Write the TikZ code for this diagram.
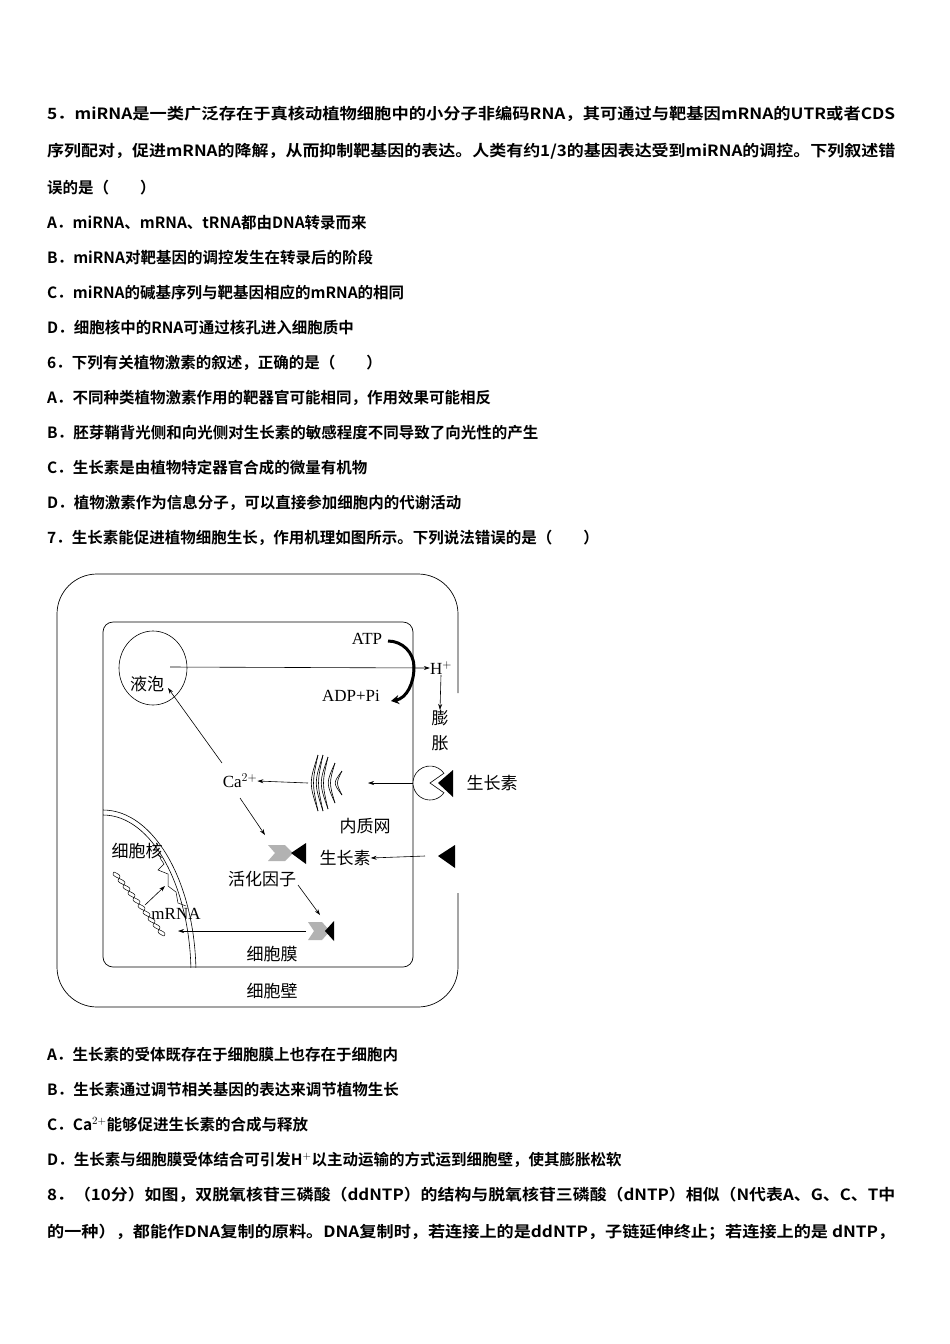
\documentclass[tikz,border=0pt]{standalone}
\usepackage{fontspec}
\setmainfont{Noto Sans CJK SC}[BoldFont={Noto Sans CJK SC Bold}]
\newfontfamily\trm{Liberation Serif}
\newfontfamily\cj{Noto Sans CJK SC}
\usetikzlibrary{arrows.meta}
\newcommand{\fl}[1]{\resizebox{848pt}{\height}{#1}}
\begin{document}
\begin{tikzpicture}[x=1pt,y=-1pt,
 tl/.style={anchor=base west,inner sep=0,font=\fontsize{15.5}{16}\selectfont\bfseries},
 dl/.style={inner sep=0,font=\fontsize{17}{18}\selectfont\cj},
 ar/.style={-{Stealth[length=6pt,width=4pt]},line width=0.6pt},
 tri/.style={fill=black}]
\useasboundingbox[fill=white] (0,0) rectangle (950,1344);
\node[tl] (l1) at (47,119) {\fl{5．miRNA是一类广泛存在于真核动植物细胞中的小分子非编码RNA，其可通过与靶基因mRNA的UTR或者CDS}};
\node[tl] (l2) at (47,156) {\fl{序列配对，促进mRNA的降解，从而抑制靶基因的表达。人类有约1/3的基因表达受到miRNA的调控。下列叙述错}};
\node[tl] (l3) at (47,193) {误的是（\quad\quad ）};
\node[tl] (l4) at (47,228) {A．miRNA、mRNA、tRNA都由DNA转录而来};
\node[tl] (l5) at (47,263) {B．miRNA对靶基因的调控发生在转录后的阶段};
\node[tl] (l6) at (47,298) {C．miRNA的碱基序列与靶基因相应的mRNA的相同};
\node[tl] (l7) at (47,333) {D．细胞核中的RNA可通过核孔进入细胞质中};
\node[tl] (l8) at (47,368) {6．下列有关植物激素的叙述，正确的是（\quad\quad ）};
\node[tl] (l9) at (47,403) {A．不同种类植物激素作用的靶器官可能相同，作用效果可能相反};
\node[tl] (l10) at (47,438) {B．胚芽鞘背光侧和向光侧对生长素的敏感程度不同导致了向光性的产生};
\node[tl] (l11) at (47,473) {C．生长素是由植物特定器官合成的微量有机物};
\node[tl] (l12) at (47,508) {D．植物激素作为信息分子，可以直接参加细胞内的代谢活动};
\node[tl] (l13) at (47,543) {7．生长素能促进植物细胞生长，作用机理如图所示。下列说法错误的是（\quad\quad ）};
\node[tl] (m1) at (47,1060) {A．生长素的受体既存在于细胞膜上也存在于细胞内};
\node[tl] (m2) at (47,1095) {B．生长素通过调节相关基因的表达来调节植物生长};
\node[tl] (m3) at (47,1130) {C．Ca$^{2+}$能够促进生长素的合成与释放};
\node[tl] (m4) at (47,1165) {D．生长素与细胞膜受体结合可引发H$^{+}$以主动运输的方式运到细胞壁，使其膨胀松软};
\node[tl] (m5) at (47,1200) {\fl{8．（10分）如图，双脱氧核苷三磷酸（ddNTP）的结构与脱氧核苷三磷酸（dNTP）相似（N代表A、G、C、T中}};
\node[tl] (m6) at (47,1237) {\fl{的一种），都能作DNA复制的原料。DNA复制时，若连接上的是ddNTP，子链延伸终止；若连接上的是\ dNTP，}};
% cell wall
\draw[line width=0.7pt,rounded corners=40pt] (458,693) -- (458,574) -- (57,574) -- (57,1007) -- (458,1007) -- (458,893);
% membrane
\draw[line width=0.7pt,rounded corners=10pt] (103,622) rectangle (413,967);
% nucleus
\begin{scope}
\clip (103,622) rectangle (413,967);
\draw[line width=0.6pt] (103,815) arc[start angle=-90,end angle=0,x radius=88,y radius=160];
\draw[line width=0.6pt] (103,810) arc[start angle=-90,end angle=0,x radius=93,y radius=165];
\end{scope}
\draw[line width=0.6pt] (153,668) ellipse[x radius=34,y radius=37];
\node[dl] (vac) at (147,684) {液泡};
\node[dl,font=\fontsize{17}{18}\selectfont\trm] (atp) at (367,639) {ATP};
\node[dl,font=\fontsize{17}{18}\selectfont\trm] (adp) at (351,696) {ADP+Pi};
\node[dl,font=\fontsize{17}{18}\selectfont\trm] (h) at (441,668) {H$^{+}$};
\draw[ar] (170,667) -- (h.west);
\draw[line width=3pt,-{Stealth[length=8pt,width=9pt]}] (388,641) to[out=0,in=90] (414,667) to[out=-90,in=10] (391,701);
\node[dl] (pz1) at (440,718) {膨};
\node[dl] (pz2) at (440,743) {胀};
\draw[ar] (h.south) -- (pz1.north);
% receptor
\draw[line width=0.6pt,fill=white] (430,783) ++(35:17) arc[start angle=35,end angle=325,radius=17] -- (430,783) -- cycle;
\node[coordinate] (rec) at (413,783) {};
\fill (438,783) -- (453,770) -- (453,797) -- cycle;
\node[dl] (sz1) at (492,783) {生长素};
% ER
\foreach \r/\h in {0/28,5/28,10/26,17/20,24/12}{\draw[line width=0.6pt] (318+\r,783-\h) .. controls (312+\r,783) .. (318+\r,783+\h);}
\foreach \r/\h in {0/28,5/28,10/26,17/20,24/12}{\draw[line width=0.6pt] (318+\r,783-\h) .. controls (309+\r,783) .. (318+\r,783+\h);}
\node[coordinate] (erR) at (368,783) {};
\node[coordinate] (erL) at (308,783) {};
\node[dl] (nzw) at (365,826) {内质网};
\draw[ar] (rec) -- (erR);
\node[dl,font=\fontsize{17}{18}\selectfont\trm] (ca) at (240,781) {Ca$^{2+}$};
\draw[ar] (erL) -- (ca.east);
\draw[ar] (222,763) -- (168,688);
\draw[ar] (240,798) -- (265,835);
% activator 1
\fill[gray!60] (268,845) -- (285,845) -- (293,853) -- (285,861) -- (268,861) -- (275,853) -- cycle;
\fill (291,853) -- (306,843) -- (306,864) -- cycle;
\node[dl] (sz2) at (345,858) {生长素};
\fill (438,856) -- (455,845) -- (455,868) -- cycle;
\draw[ar] (425,856) -- (sz2.east);
\node[dl] (hh) at (262,879) {活化因子};
\draw[ar] (298,885) -- (320,915);
% activator 2
\fill[gray!60] (308,922) -- (322,922) -- (330,931) -- (322,940) -- (308,940) -- (314,931) -- cycle;
\fill (325,931) -- (334,921) -- (334,941) -- cycle;
\draw[ar] (306,931) -- (178,931);
\node[dl] (xbm) at (272,954) {细胞膜};
\node[dl] (xbb) at (272,991) {细胞壁};
\node[dl] (xbh) at (137,851) {细胞核};
\node[dl,font=\fontsize{17}{18}\selectfont\trm] (mrna) at (176,914) {mRNA};
% DNA helix
\draw[line width=0.5pt] plot[domain=0:1,samples=60,smooth] ({114+50*\x+3*sin(1800*\x)},{872+64*\x});
\draw[line width=0.5pt] plot[domain=0:1,samples=60,smooth] ({114+50*\x-3*sin(1800*\x)},{872+64*\x});
\draw[line width=0.5pt] (160,858) -- (164,864) -- (158,870) -- (168,874) -- (168,886) -- (176,892) -- (178,903) -- (186,906);
\draw[ar] (145,905) -- (165,886);
\end{tikzpicture}
\end{document}
